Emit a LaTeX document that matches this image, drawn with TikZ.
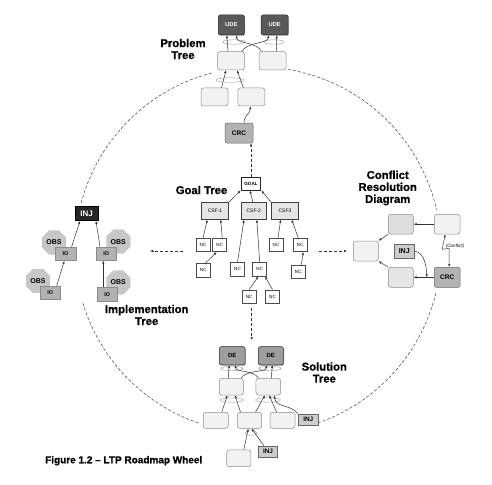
\documentclass[tikz,border=0pt]{standalone}
\usepackage{fontspec}
\setmainfont{Liberation Sans}
\newfontfamily\hvy{Liberation Sans}[BoldFeatures={FakeBold=0.7}]
\usetikzlibrary{shapes.geometric,arrows.meta,shadows}
\newcommand\myfs[1]{\fontsize{#1}{#1}\selectfont}
\tikzset{
  wh/.style 2 args={minimum width=#1pt,minimum height=#2pt},
  base/.style={rectangle,inner sep=0pt,line width=0.5pt},
  lbox/.style={base,rounded corners=2.5pt,draw=black!45,fill=black!5},
  ude/.style={base,rounded corners=2pt,draw=black!85,fill=black!65,text=white,
    font=\bfseries\myfs{5.8},drop shadow={shadow xshift=0.8pt,shadow yshift=-0.8pt,fill=black!50}},
  debox/.style={ude,fill=black!38,text=black,font=\bfseries\myfs{6}},
  crc/.style={base,rounded corners=2pt,draw=black!60,fill=black!30,font=\bfseries\myfs{6.6}},
  goal/.style={base,draw=black!85,line width=1pt,fill=white,font=\bfseries\myfs{4.6}},
  csf/.style={base,draw=black!75,line width=0.8pt,fill=black!10,font=\myfs{5},wh={26.6}{16.6}},
  nc/.style={base,draw=black!70,line width=0.6pt,fill=white,font=\myfs{4.6},wh={14}{13.5}},
  injd/.style={base,draw=black,fill=black!85,text=white,font=\bfseries\myfs{8}},
  injl/.style={base,draw=black!60,fill=black!20,font=\bfseries\myfs{7}},
  io/.style={base,draw=black!45,fill=black!30,font=\bfseries\myfs{5.4},wh={20.7}{13.3}},
  obs/.style={regular polygon,regular polygon sides=8,minimum size=25.5pt,inner sep=0pt,
    draw=black!25,fill=black!22,font=\bfseries\myfs{7}},
  andell/.style={ellipse,draw=black!40,line width=0.4pt,inner sep=0pt,minimum height=4.5pt},
  arr/.style={-{Latex[length=3pt,width=2.4pt]},line width=0.5pt,draw=black!80},
  darr/.style={arr,dash pattern=on 3pt off 2pt},
  wheel/.style={dash pattern=on 3pt off 2pt,line width=0.5pt,draw=black!75},
  title/.style={font=\hvy\bfseries\myfs{11.3},align=center,inner sep=0pt}
}
\begin{document}
\begin{tikzpicture}[x=1pt,y=-1pt]
\useasboundingbox[fill=white] (0,0) rectangle (492,484);
\coordinate (O) at (258,250);
% wheel arcs
\draw[wheel] ([shift={(255.35:183)}]O) arc[start angle=255.35,end angle=194.95,radius=183];
\draw[wheel] ([shift={(279.5:183)}]O) arc[start angle=279.5,end angle=347.3,radius=183];
\draw[wheel] ([shift={(163.2:183)}]O) arc[start angle=163.2,end angle=108.5,radius=183];
\draw[wheel] ([shift={(70.9:183)}]O) arc[start angle=70.9,end angle=13.4,radius=183];

% ---------- Problem tree ----------
\node[ude,wh={26}{20}] (U1) at (231.3,25) {UDE};
\node[ude,wh={27}{20}] (U2) at (274.7,25) {UDE};
\node[lbox,wh={26.6}{18.3}] (P1) at (231,60.8) {};
\node[lbox,wh={27}{18.3}] (P2) at (272.5,60.8) {};
\node[lbox,wh={27}{18}] (P3) at (214.5,97) {};
\node[lbox,wh={27}{18}] (P4) at (251.3,97) {};
\node[crc,wh={28}{20}] (CRC1) at (239,133) {CRC};
\node[andell,minimum width=22pt] (A1) at (234,42) {};
\node[andell,minimum width=20pt] (A2) at (274,42) {};
\node[andell,minimum width=28pt] (A3) at (230,80) {};
\node[title] (TP) at (183,49) {Problem\\[0.7pt]Tree};
\draw[arr] ([xshift=-3pt]P1.north) -- ([xshift=-4.5pt]U1.south);
\draw[arr] ([xshift=-11pt]P2.north) .. controls +(-4,-9) and +(0,8) .. ([xshift=5.3pt]U1.south);
\draw[arr] ([xshift=11pt]P1.north) .. controls +(4,-9) and +(0,8) .. ([xshift=-6.4pt]U2.south);
\draw[arr] ([xshift=4pt]P2.north) -- ([xshift=2pt]U2.south);
\draw[arr] ([xshift=7pt]P3.north) -- ([xshift=-5pt]P1.south);
\draw[arr] ([xshift=-8pt]P4.north) -- ([xshift=6pt]P1.south);
\draw[arr] ([xshift=5pt]CRC1.north) .. controls +(0,-8) and +(0,8) .. ([xshift=-1pt]P4.south);

% ---------- Goal tree ----------
\node[goal,wh={19.7}{12.7}] (G) at (251,183.7) {GOAL};
\node[csf] (CS1) at (215,211) {CSF-1};
\node[csf,wh={25.7}{16.6}] (CS2) at (253.8,211) {CSF-2};
\node[csf] (CS3) at (285,211) {CSF3};
\node[nc] (N1) at (203,245) {NC};
\node[nc] (N2) at (219.7,245) {NC};
\node[nc] (N3) at (276,245) {NC};
\node[nc] (N4) at (300.3,245) {NC};
\node[nc] (N5) at (203.3,270.3) {NC};
\node[nc] (N6) at (237.5,269.3) {NC};
\node[nc] (N7) at (259.7,269.3) {NC};
\node[nc] (N8) at (298.3,271.7) {NC};
\node[nc] (N9) at (249.2,296.7) {NC};
\node[nc] (N10) at (272.5,296.7) {NC};
\node[title] (TG) at (201.5,190) {Goal Tree};
\draw[arr] (CS1.north east) -- (G.south west);
\draw[arr] ([xshift=-1pt]CS2.north) -- ([xshift=-1pt]G.south);
\draw[arr] (CS3.north west) -- (G.south east);
\draw[arr] (N1.north) -- ([xshift=-7.7pt]CS1.south);
\draw[arr] ([xshift=2.5pt]N2.north) -- ([xshift=5.7pt]CS1.south);
\draw[arr] ([xshift=2pt]N5.north) -- ([xshift=-3pt]N2.south);
\draw[arr] (N6.north) -- ([xshift=-9.8pt]CS2.south);
\draw[arr] (N7.north) -- ([xshift=3pt]CS2.south);
\draw[arr] (N9.north) -- ([xshift=-1.4pt]N7.south);
\draw[arr] (N10.north) -- ([xshift=5.3pt]N7.south);
\draw[arr] ([xshift=2pt]N3.north) -- ([xshift=-4.3pt]CS3.south);
\draw[arr] ([xshift=-2pt]N4.north) -- ([xshift=6.7pt]CS3.south);
\draw[arr] ([xshift=3pt]N8.north) -- ([xshift=3pt]N4.south);
% dashed arrows out of the goal tree
\coordinate (dL0) at (183,251);
\coordinate (dL1) at (150,251);
\coordinate (dR0) at (319,251);
\coordinate (dR1) at (347,251);
\coordinate (dD0) at (251.7,308);
\coordinate (dD1) at (251.7,340);
\draw[darr] (G.north) -- (G.north |- CRC1.south);
\draw[darr] (dL0) -- (dL1);
\draw[darr] (dR0) -- (dR1);
\draw[darr] (dD0) -- (dD1);

% ---------- Implementation tree ----------
\node[obs] (O1) at (54,242.5) {OBS};
\node[obs] (O2) at (118.3,241.7) {OBS};
\node[obs] (O3) at (38,281) {OBS};
\node[obs] (O4) at (118.3,282.5) {OBS};
\node[io] (IO1) at (65.5,254) {IO};
\node[io] (IO2) at (106.3,253.7) {IO};
\node[io] (IO3) at (50.3,292.7) {IO};
\node[io] (IO4) at (107.3,294.2) {IO};
\node[injd,wh={23.3}{14}] (INJ1) at (86.7,213.7) {INJ};
\node[title] (TI) at (146.7,315) {Implementation\\[0.7pt]Tree};
\draw[arr] ([xshift=6pt]IO1.north) -- ([xshift=-6.7pt]INJ1.south);
\draw[arr] ([xshift=-6.3pt]IO2.north) -- ([xshift=9.3pt]INJ1.south);
\draw[arr] ([xshift=6.4pt]IO3.north) -- ([xshift=-1.2pt]IO1.south);
\draw[arr] ([xshift=-4pt]IO4.north) -- ([xshift=-3pt]IO2.south);

% ---------- Conflict resolution diagram ----------
\node[lbox,fill=black!13,wh={25}{19.7}] (C1) at (400.8,224.2) {};
\node[lbox,wh={25.7}{19.7}] (C2) at (447.2,224.2) {};
\node[lbox,wh={25}{20}] (C3) at (365.8,251) {};
\node[lbox,fill=black!10,wh={25}{20}] (C4) at (400.8,277.3) {};
\node[crc,wh={25.7}{20}] (CRC2) at (447.2,277.3) {CRC};
\node[injl,wh={19.7}{14}] (INJ2) at (404.2,251.3) {INJ};
\node[title] (TC) at (387.7,188) {Conflict\\[0.7pt]Resolution\\[0.7pt]Diagram};
\draw[arr] (C2.west) -- (C1.east);
\draw[arr] (C1.south west) -- (C3.north east);
\draw[arr] (C4.north west) -- (C3.south east);
\draw[arr] (CRC2.west) -- (C4.east);
\coordinate (cj) at (426.7,277.3);
\draw[arr] (INJ2.east) .. controls +(9,0) and +(0,-12) .. (cj);
\draw[{Latex[length=3pt,width=2.4pt]}-{Latex[length=3pt,width=2.4pt]},line width=0.5pt,draw=black!75]
  ([xshift=-2pt]C2.south) -- ++(-3,15) -- ++(7,-1) -- ([xshift=2pt]CRC2.north);
\node[font=\itshape\myfs{4.6},inner sep=0.3pt] (CL) at (455,246.3) {(Conflict)};

% ---------- Solution tree ----------
\node[debox,wh={25.7}{18.3}] (DE1) at (232.2,355.8) {DE};
\node[debox,wh={25}{18.3}] (DE2) at (270.8,355.8) {DE};
\node[lbox,wh={24}{16.7}] (S1) at (231.3,386.7) {};
\node[lbox,wh={24.7}{16.7}] (S2) at (268.3,386.7) {};
\node[lbox,wh={25}{16}] (B1) at (215.8,420.3) {};
\node[lbox,wh={24.4}{16}] (B2) at (249.5,420.3) {};
\node[lbox,wh={25}{16}] (B3) at (282.5,420.3) {};
\node[injl,wh={20}{11.3},font=\bfseries\myfs{6.4}] (INJ3) at (308.3,419.5) {INJ};
\node[lbox,wh={24.3}{16.7}] (L1) at (238.8,458.3) {};
\node[injl,wh={19.4}{11.3},font=\bfseries\myfs{6.4}] (INJ4) at (268,451.7) {INJ};
\node[andell,minimum width=22pt] (E1) at (232,368.5) {};
\node[andell,minimum width=22pt] (E2) at (270,368.5) {};
\node[andell,minimum width=23pt] (E3) at (232,400) {};
\node[andell,minimum width=25pt] (E4) at (268,400) {};
\node[andell,minimum width=12pt] (E5) at (251,433) {};
\node[title] (TS) at (324.3,372.5) {Solution\\[0.7pt]Tree};
\draw[arr] ([xshift=-3pt]S1.north) -- ([xshift=-3pt]DE1.south);
\draw[arr] ([xshift=-10pt]S2.north) .. controls +(-4,-8) and +(0,7) .. ([xshift=3.5pt]DE1.south);
\draw[arr] ([xshift=10pt]S1.north) .. controls +(4,-8) and +(0,7) .. ([xshift=-4.5pt]DE2.south);
\draw[arr] ([xshift=3pt]S2.north) -- ([xshift=1.5pt]DE2.south);
\draw[arr] ([xshift=6pt]B1.north) -- ([xshift=-4pt]S1.south);
\draw[arr] ([xshift=-9pt]B2.north) -- ([xshift=3.7pt]S1.south);
\draw[arr] ([xshift=6pt]B2.north) -- ([xshift=-3.3pt]S2.south);
\draw[arr] ([xshift=-6pt]B3.north) -- ([xshift=1pt]S2.south);
\draw[arr] (INJ3.north west) .. controls (290,404) and (276,408) .. ([xshift=6pt]S2.south);
\draw[arr] ([xshift=5pt]L1.north) -- ([xshift=-1.2pt]B2.south);
\draw[arr] ([xshift=-4pt]INJ4.north) -- ([xshift=2.2pt]B2.south);

% ---------- caption ----------
\node[font=\hvy\bfseries\myfs{10},anchor=west,inner sep=0pt] (CAP) at (45,460.7) {Figure 1.2 – LTP Roadmap Wheel};
\end{tikzpicture}
\end{document}
